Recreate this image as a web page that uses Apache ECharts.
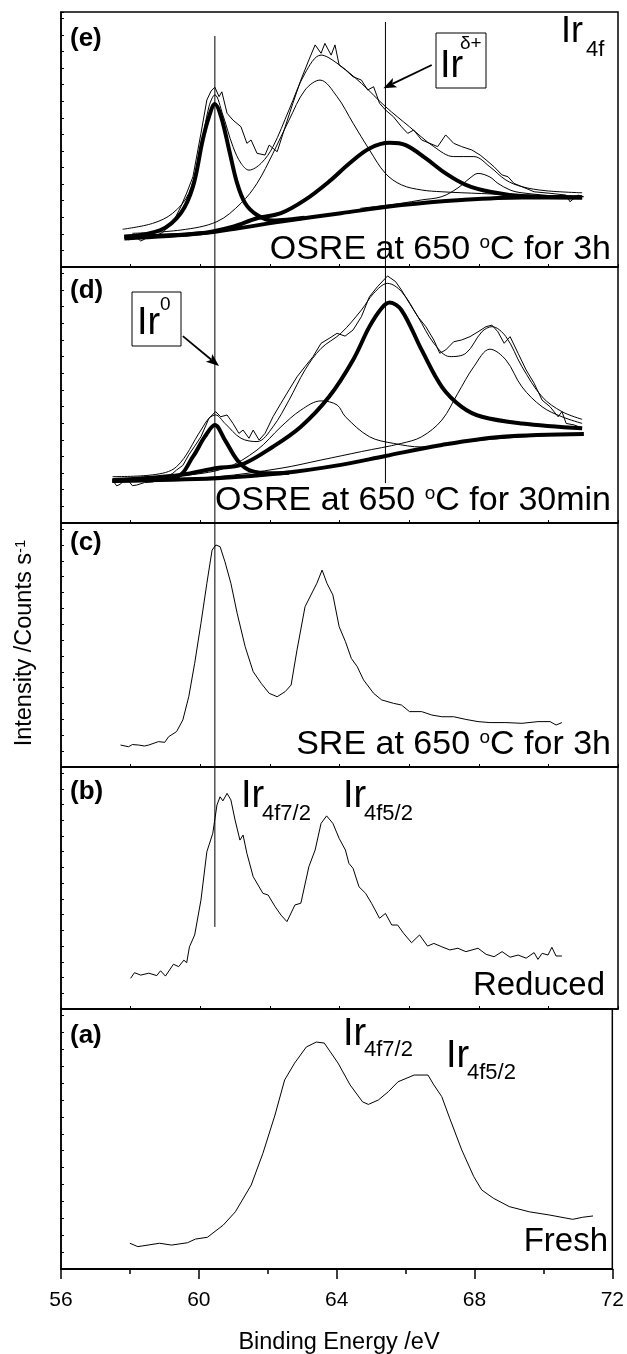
<!DOCTYPE html>
<html>
<head>
<meta charset="utf-8">
<script src="https://cdn.jsdelivr.net/npm/echarts/dist/echarts.min.js"></script>
<style>
  html, body { margin: 0; padding: 0; background: #fff; }
  #chart { width: 627px; height: 1354px; }
</style>
</head>
<body>
<div id="chart"></div>
<script>
// Ir 4f XPS, five stacked panels (e) .. (a), binding energy in eV, intensity in arbitrary units (0-100 per panel)

const energyTicks = [56, 60, 64, 68, 72];

// (e) OSRE at 650 C for 3h
const eRaw = [[57.82,12.5],[57.94,10.6],[58.05,12.0],[58.17,11.6],[58.29,10.2],[58.40,10.9],[58.52,12.0],[58.75,12.5],[58.92,13.5],[59.09,15.8],[59.27,19.0],[59.44,23.6],[59.61,29.0],[59.79,35.4],[60.02,52.4],[60.19,65.5],[60.31,69.0],[60.42,70.5],[60.54,66.8],[60.62,68.7],[60.77,60.3],[60.94,57.6],[61.17,55.0],[61.34,48.5],[61.46,49.8],[61.63,44.6],[61.86,43.9],[61.98,47.8],[62.21,45.2],[62.44,55.0],[62.66,64.2],[62.89,73.3],[63.12,81.2],[63.30,87.1],[63.47,83.8],[63.58,87.7],[63.76,83.1],[63.87,87.1],[63.99,79.2],[64.17,77.3],[64.39,74.6],[64.63,73.3],[64.81,69.4],[64.98,70.7],[65.15,64.2],[65.32,61.6],[65.55,58.9],[65.78,55.0],[65.96,52.4],[66.13,53.7],[66.36,49.8],[66.59,48.5],[66.82,47.2],[67.05,51.8],[67.28,48.5],[67.51,47.2],[67.80,45.9],[68.04,43.9],[68.21,42.0],[68.44,39.3],[68.67,36.1],[68.84,35.4],[69.01,32.8],[69.24,31.5],[69.59,29.5],[70.05,28.9],[70.51,28.2],[70.62,25.6],[70.85,28.2],[71.02,27.5]];
const eEnvelope = [[57.77,14.8],[58.63,17.1],[59.21,21.1],[59.67,28.9],[60.02,47.2],[60.25,62.9],[60.42,67.5],[60.65,59.6],[60.94,47.2],[61.17,40.7],[61.40,38.0],[61.75,40.7],[62.09,47.2],[62.55,61.6],[63.01,76.0],[63.47,83.1],[63.93,79.9],[64.63,72.0],[65.32,62.9],[66.01,55.0],[66.71,47.2],[67.28,43.3],[67.86,43.3],[68.32,39.3],[68.78,34.1],[69.24,31.5],[69.93,29.9],[70.97,29.1]];
const eIr0Peak = [[57.82,11.9],[58.86,14.5],[59.44,21.1],[59.79,31.5],[60.07,49.8],[60.25,58.9],[60.42,63.9],[60.60,58.9],[60.83,45.9],[61.06,32.8],[61.29,25.0],[61.63,20.4],[62.09,18.2],[62.55,18.6],[63.00,19.3]];
const eIrDeltaPeak = [[57.82,11.2],[60.02,13.2],[60.94,15.8],[61.63,19.1],[62.32,21.1],[63.01,26.3],[63.70,33.5],[64.29,40.7],[64.86,46.5],[65.44,48.7],[65.90,47.8],[66.48,42.6],[67.05,36.7],[67.63,32.2],[68.32,29.5],[69.24,27.8],[70.97,27.3]];
const eThin635 = [[58.05,13.2],[59.44,14.5],[60.48,17.8],[61.17,25.0],[61.63,32.8],[62.09,44.6],[62.55,57.6],[63.01,69.4],[63.44,73.3],[63.93,66.8],[64.39,56.4],[64.86,45.9],[65.32,36.7],[65.78,32.2],[66.36,30.2],[66.94,29.5],[68.09,28.8],[69.24,28.2],[70.97,27.8]];
const eThin68 = [[64.60,23.0],[65.78,25.0],[66.36,26.3],[66.94,27.6],[67.40,31.0],[67.75,34.9],[67.98,36.7],[68.32,35.3],[68.55,32.8],[68.90,30.2],[69.24,29.1],[70.39,27.6],[70.97,27.3]];
const eBackground = [[57.82,11.9],[60.02,13.2],[62.32,17.8],[64.04,21.1],[65.78,24.3],[67.51,26.3],[69.24,27.3],[70.97,27.3]];

// (d) OSRE at 650 C for 30min
const dRaw = [[57.48,16.8],[57.60,14.5],[57.71,15.2],[57.82,17.0],[57.94,16.4],[58.05,14.6],[58.17,14.8],[58.40,15.8],[58.63,16.0],[58.92,17.2],[59.21,19.4],[59.32,20.7],[59.50,22.5],[59.67,26.6],[59.84,30.0],[60.02,33.7],[60.25,40.9],[60.44,43.5],[60.59,41.5],[60.77,42.2],[60.94,38.9],[61.11,35.0],[61.23,36.3],[61.40,33.1],[61.52,36.3],[61.69,32.4],[61.86,35.0],[62.09,41.5],[62.32,46.8],[62.55,52.0],[62.78,57.1],[63.01,61.1],[63.24,65.0],[63.47,70.2],[63.70,72.1],[63.93,74.1],[64.16,73.0],[64.39,75.4],[64.63,80.6],[64.86,88.4],[65.09,92.3],[65.38,96.5],[65.61,94.3],[65.78,91.0],[66.01,85.8],[66.25,80.6],[66.48,76.7],[66.71,71.5],[66.88,66.3],[67.05,67.6],[67.28,70.8],[67.51,71.5],[67.75,72.8],[67.98,74.7],[68.21,76.7],[68.38,77.3],[68.55,74.7],[68.73,70.2],[68.90,72.8],[69.13,66.3],[69.36,59.8],[69.59,54.6],[69.82,48.0],[70.05,45.4],[70.28,41.5],[70.39,43.5],[70.51,38.9],[70.74,38.3],[70.97,37.1]];
const dEnvelope = [[57.48,18.1],[58.63,18.8],[59.32,22.0],[60.02,36.3],[60.25,40.9],[60.44,42.2],[60.71,38.9],[61.17,33.1],[61.63,31.8],[62.09,37.6],[62.55,48.0],[63.01,59.8],[63.47,68.2],[64.04,74.1],[64.63,83.2],[64.98,89.7],[65.38,93.6],[65.78,90.4],[66.25,80.6],[66.71,70.2],[67.17,65.0],[67.63,66.3],[68.09,74.7],[68.38,76.7],[68.78,72.8],[69.24,61.1],[69.82,49.3],[70.39,43.5],[70.97,40.5]];
const dIr0Peak = [[57.48,16.4],[59.32,18.1],[59.79,25.9],[60.13,33.7],[60.42,38.3],[60.71,32.4],[61.06,24.6],[61.40,20.7],[62.09,19.4],[62.55,19.6]];
const dIrDeltaPeak = [[57.48,16.8],[59.44,18.8],[60.48,21.5],[61.17,22.7],[62.09,29.8],[62.89,37.6],[63.70,49.3],[64.39,63.7],[64.86,76.7],[65.21,83.9],[65.44,86.1],[65.78,83.2],[66.36,67.6],[66.94,53.2],[67.51,45.4],[68.09,41.5],[69.24,38.9],[70.97,37.0]];
const dThin635 = [[57.48,16.0],[59.44,18.4],[60.71,21.4],[61.63,28.5],[62.32,37.6],[62.89,44.1],[63.47,47.7],[63.93,46.1],[64.17,41.5],[64.86,33.7],[65.55,31.1],[66.36,29.7],[67.51,31.6],[69.24,33.6],[70.97,34.8]];
const dThin683 = [[57.48,16.1],[60.48,18.1],[62.32,21.4],[63.47,24.6],[64.63,27.9],[65.78,31.1],[66.36,33.7],[66.94,40.2],[67.40,50.7],[67.86,61.1],[68.32,67.9],[68.78,63.7],[69.24,53.2],[69.82,45.4],[70.39,41.5],[70.97,38.9]];
const dBackground = [[57.48,16.5],[60.48,17.5],[62.32,19.4],[64.04,22.7],[65.32,26.2],[66.94,30.5],[68.67,33.7],[71.02,34.8]];

// (c) SRE at 650 C for 3h
const cSre = [[57.71,9.0],[57.94,8.3],[58.05,9.2],[58.23,9.0],[58.40,8.6],[58.52,9.0],[58.80,10.4],[58.98,10.1],[59.09,12.4],[59.32,14.5],[59.50,19.3],[59.67,28.8],[59.84,42.5],[60.02,58.9],[60.19,75.3],[60.34,88.9],[60.45,91.0],[60.57,90.3],[60.71,84.1],[60.88,75.3],[61.06,63.0],[61.29,49.3],[61.52,39.1],[61.75,34.3],[61.98,30.2],[62.21,28.8],[62.44,30.9],[62.61,33.6],[62.78,48.0],[63.01,65.7],[63.18,70.5],[63.35,75.3],[63.50,80.7],[63.64,75.3],[63.81,70.5],[63.99,57.5],[64.17,51.4],[64.34,44.5],[64.51,41.1],[64.69,35.7],[64.98,30.2],[65.21,27.5],[65.55,26.1],[65.78,25.4],[66.01,22.7],[66.36,22.7],[66.65,21.3],[66.94,20.6],[67.28,20.6],[67.63,19.5],[67.98,18.6],[68.32,18.2],[68.78,18.2],[69.24,17.9],[69.70,18.6],[70.05,18.6],[70.22,17.2],[70.39,18.2]];

// (b) Reduced
const bReduced = [[58.00,12.7],[58.11,15.0],[58.29,14.0],[58.52,14.8],[58.75,13.8],[58.86,15.8],[59.00,13.6],[59.23,18.5],[59.38,17.5],[59.53,20.2],[59.61,19.1],[59.69,25.7],[59.84,30.6],[60.02,45.0],[60.19,65.0],[60.36,72.6],[60.48,84.3],[60.57,87.7],[60.65,86.0],[60.77,89.1],[60.88,86.4],[61.00,78.1],[61.14,69.8],[61.23,71.9],[61.34,64.3],[61.52,54.7],[61.80,47.8],[61.95,47.1],[62.15,42.3],[62.32,38.8],[62.49,36.1],[62.72,43.0],[62.89,43.7],[63.12,58.8],[63.30,65.7],[63.47,76.7],[63.63,79.8],[63.81,76.7],[63.99,70.5],[64.17,65.7],[64.27,60.2],[64.39,58.1],[64.56,50.5],[64.75,47.8],[64.92,43.7],[65.15,37.5],[65.32,39.5],[65.50,34.7],[65.67,34.7],[65.84,31.3],[66.07,27.4],[66.30,30.6],[66.53,26.0],[66.71,27.1],[66.94,25.7],[67.17,24.4],[67.40,25.1],[67.63,23.7],[67.98,25.1],[68.21,22.6],[68.44,21.6],[68.67,23.7],[68.90,21.4],[69.13,22.3],[69.36,21.0],[69.59,23.3],[69.70,20.5],[69.82,23.0],[69.99,22.3],[70.10,25.5],[70.22,21.9],[70.39,21.9]];

// (a) Fresh
const aFresh = [[58.00,9.9],[58.23,8.6],[58.86,9.9],[59.21,9.2],[59.67,10.1],[59.90,11.5],[60.25,12.2],[60.71,16.9],[61.06,22.0],[61.52,32.3],[61.86,44.5],[62.21,59.2],[62.49,72.7],[62.78,79.2],[63.12,85.4],[63.41,87.3],[63.64,86.9],[64.04,79.2],[64.39,70.8],[64.75,64.3],[64.92,63.3],[65.21,65.0],[65.50,68.2],[65.78,72.0],[66.25,74.6],[66.65,74.6],[66.82,70.8],[67.05,66.3],[67.28,58.0],[67.63,45.8],[67.98,35.5],[68.21,30.4],[68.55,27.2],[69.01,24.0],[69.59,22.0],[70.16,20.8],[70.85,19.1],[71.14,19.9],[71.44,20.4]];

// guide lines: energy and [top, bottom] extent per panel e, d, c, b, a
const ir0Energy = 60.42;
const ir0Spans = [[90.6, 0], [100, 0], [100, 0], [100, 33.9], null];
const irDeltaEnergy = 65.32;
const irDeltaSpans = [[96.1, 0], [100, 15.6], null, null, null];

// annotation arrows: [x1, y1, x2, y2] (tail -> head)
const ir0Arrow = [59.50, 73.0, 60.54, 61.3];
const irDeltaArrow = [66.65, 79.2, 65.26, 70.1];

const FONT = '"Liberation Sans", Arial, Helvetica, sans-serif';
const LEFT = 61, RIGHT = 9;
const panels = [
  { top: 12, height: 255 },   // e
  { top: 267, height: 256 },  // d
  { top: 523, height: 244 },  // c
  { top: 767, height: 242 },  // b
  { top: 1009, height: 260 }  // a
];
const black = '#000';
const THICK = 4;

const grid = panels.map(p => ({
  left: LEFT, right: RIGHT, top: p.top, height: p.height,
  show: true, borderColor: black, borderWidth: 1.5, backgroundColor: 'transparent'
}));

const xAxis = panels.map((p, i) => {
  const last = i === panels.length - 1;
  return {
    type: 'value', gridIndex: i,
    min: energyTicks[0], max: energyTicks[energyTicks.length - 1],
    interval: energyTicks[1] - energyTicks[0],
    axisLine: { show: true, onZero: false, lineStyle: { color: black, width: last ? 2 : 1.5 } },
    axisTick: { show: true, inside: !last, length: last ? 10 : 3, lineStyle: { color: black, width: last ? 1.5 : 1 } },
    minorTick: { show: true, splitNumber: 2, length: last ? 5 : 3, lineStyle: { color: black, width: last ? 1.5 : 1 } },
    axisLabel: last ? { show: true, margin: 21, fontSize: 21, color: black, fontFamily: FONT } : { show: false },
    splitLine: { show: false }
  };
});

const yAxis = panels.map((p, i) => ({
  type: 'value', gridIndex: i, min: 0, max: 100, interval: 6.5,
  axisLine: { show: true, lineStyle: { color: black, width: 1.5 } },
  axisTick: { show: true, inside: true, length: 3, lineStyle: { color: black, width: 1 } },
  axisLabel: { show: false },
  splitLine: { show: false }
}));

function curve(idx, data, width, smooth) {
  return {
    type: 'line', xAxisIndex: idx, yAxisIndex: idx, data,
    symbol: 'none', smooth: smooth ? 0.35 : false,
    lineStyle: { color: black, width },
    silent: true, animation: false, z: width > 2 ? 3 : 2
  };
}

// arrow drawn through the axis scales (tail -> filled head)
function arrow(idx, a) {
  return {
    type: 'custom', xAxisIndex: idx, yAxisIndex: idx, data: [a],
    encode: { x: [0, 2], y: [1, 3] }, clip: false, silent: true, animation: false, z: 5,
    renderItem: (params, api) => {
      const p1 = api.coord([api.value(0), api.value(1)]);
      const p2 = api.coord([api.value(2), api.value(3)]);
      const ang = Math.atan2(p2[1] - p1[1], p2[0] - p1[0]);
      const L = 13, W = 5;
      const back = [p2[0] - L * Math.cos(ang), p2[1] - L * Math.sin(ang)];
      const nb = [p2[0] - (L - 3) * Math.cos(ang), p2[1] - (L - 3) * Math.sin(ang)];
      const left = [back[0] + W * Math.sin(ang), back[1] - W * Math.cos(ang)];
      const right = [back[0] - W * Math.sin(ang), back[1] + W * Math.cos(ang)];
      return {
        type: 'group',
        children: [
          { type: 'line', shape: { x1: p1[0], y1: p1[1], x2: nb[0], y2: nb[1] }, style: { stroke: black, lineWidth: 1.8 } },
          { type: 'polygon', shape: { points: [p2, left, nb, right] }, style: { fill: black } }
        ]
      };
    }
  };
}

const series = [
  // (e)
  curve(0, eBackground, THICK, true),
  curve(0, eIr0Peak, THICK, true),
  curve(0, eIrDeltaPeak, THICK, true),
  curve(0, eThin635, 1, true),
  curve(0, eThin68, 1, true),
  curve(0, eEnvelope, 1, true),
  curve(0, eRaw, 1, false),
  arrow(0, irDeltaArrow),
  // (d)
  curve(1, dBackground, THICK, true),
  curve(1, dIr0Peak, THICK, true),
  curve(1, dIrDeltaPeak, THICK, true),
  curve(1, dThin635, 1, true),
  curve(1, dThin683, 1, true),
  curve(1, dEnvelope, 1, true),
  curve(1, dRaw, 1, false),
  arrow(1, ir0Arrow),
  // (c), (b), (a)
  curve(2, cSre, 1, false),
  curve(3, bReduced, 1, false),
  curve(4, aFresh, 1, false)
];

ir0Spans.forEach((s, i) => { if (s) series.push(curve(i, [[ir0Energy, s[0]], [ir0Energy, s[1]]], 1)); });
irDeltaSpans.forEach((s, i) => { if (s) series.push(curve(i, [[irDeltaEnergy, s[0]], [irDeltaEnergy, s[1]]], 1)); });

// text helpers (y = baseline)
function txt(x, base, text, size, opt) {
  opt = opt || {};
  return {
    type: 'text', silent: true, z: 10,
    x: x, y: base - 0.35 * size,
    style: {
      text: text, fontSize: size, fontFamily: FONT,
      fontWeight: opt.bold ? 'bold' : 'normal', fill: black,
      align: opt.align || 'left', verticalAlign: 'middle',
      textAlign: opt.align || 'left', textVerticalAlign: 'middle'
    }
  };
}
function supText(xRight, base, before, sup, after, size) {
  return {
    type: 'text', silent: true, z: 10,
    x: xRight, y: base - 0.35 * size,
    style: {
      text: '{m|' + before + '}{s|' + sup + '}{m|' + after + '}',
      rich: {
        m: { fontSize: size, fontFamily: FONT, fill: black },
        s: { fontSize: Math.round(size * 0.56), fontFamily: FONT, fill: black, verticalAlign: 'top' }
      },
      align: 'right', verticalAlign: 'middle', textAlign: 'right', textVerticalAlign: 'middle'
    }
  };
}
function box(x, y, w, h) {
  return { type: 'rect', silent: true, z: 9, shape: { x, y, width: w, height: h },
    style: { fill: '#fff', stroke: black, lineWidth: 1 } };
}

const graphic = [
  // panel letters
  txt(70, 48, '(e)', 26, { bold: true }),
  txt(70, 300, '(d)', 26, { bold: true }),
  txt(70, 552, '(c)', 26, { bold: true }),
  txt(70, 801, '(b)', 26, { bold: true }),
  txt(70, 1045, '(a)', 26, { bold: true }),
  // Ir 4f corner label
  txt(561, 45, 'Ir', 36), txt(586, 58, '4f', 22),
  // Ir delta+ box
  box(436, 33, 50, 55), txt(440, 80, 'Ir', 38), txt(460, 50, 'δ+', 19),
  // Ir0 box
  box(132, 292, 49, 54), txt(137, 337, 'Ir', 38), txt(160, 311, '0', 19),
  // condition labels
  supText(611, 262, 'OSRE at 650 ', 'o', 'C for 3h', 34),
  supText(611, 513, 'OSRE at 650 ', 'o', 'C for 30min', 34),
  supText(611, 757, 'SRE at 650 ', 'o', 'C for 3h', 34),
  txt(605, 997, 'Reduced', 33, { align: 'right' }),
  txt(608, 1253, 'Fresh', 33, { align: 'right' }),
  // (b) peak labels
  txt(241, 810, 'Ir', 38), txt(262, 822, '4f7/2', 22),
  txt(343, 810, 'Ir', 38), txt(364, 822, '4f5/2', 22),
  // (a) peak labels
  txt(343, 1048, 'Ir', 38), txt(364, 1058, '4f7/2', 22),
  txt(446, 1070, 'Ir', 38), txt(467, 1081, '4f5/2', 22),
  // axis titles
  txt(339, 1351, 'Binding Energy /eV', 23.5, { align: 'center' }),
  {
    type: 'text', silent: true, z: 10, x: 25, y: 643, rotation: Math.PI / 2,
    style: {
      text: '{m|Intensity /Counts s}{s|-1}',
      rich: {
        m: { fontSize: 23.5, fontFamily: FONT, fill: black },
        s: { fontSize: 15, fontFamily: FONT, fill: black, verticalAlign: 'top' }
      },
      align: 'center', verticalAlign: 'middle', textAlign: 'center', textVerticalAlign: 'middle'
    }
  }
];

const chart = echarts.init(document.getElementById('chart'), null, { renderer: 'canvas' });
chart.setOption({
  backgroundColor: '#fff',
  animation: false,
  grid, xAxis, yAxis, series, graphic
});
</script>
</body>
</html>
